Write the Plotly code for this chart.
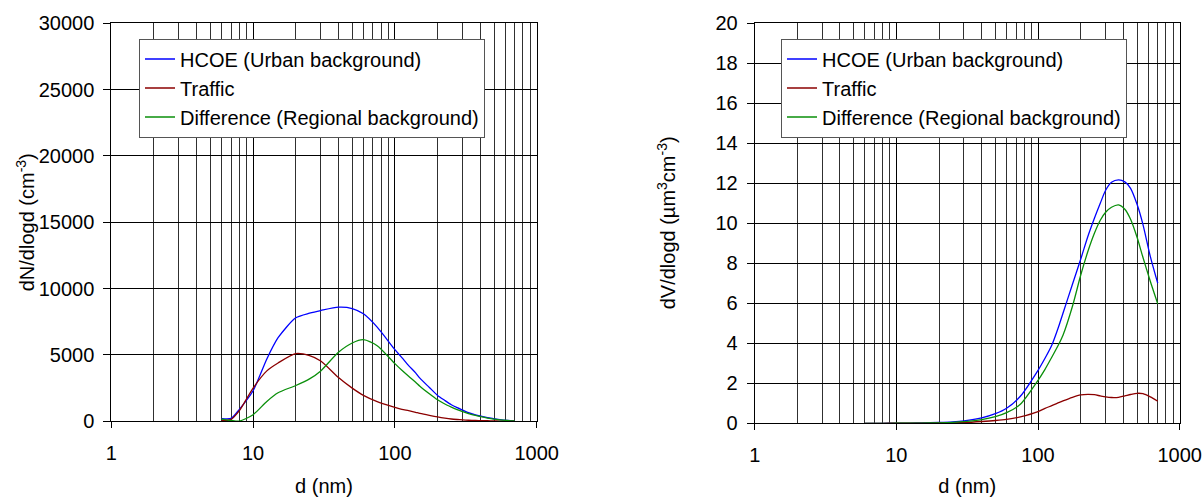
import plotly.graph_objects as go

# Diameters (nm)
d = [6, 7, 8, 10, 12.5, 15, 20, 25, 30, 40, 50, 60, 75, 100, 112, 125, 140, 150, 175, 200, 225,
     250, 275, 300, 330, 370, 410, 450, 500, 550, 620, 700]

# Number size distribution dN/dlogd (cm-3)
n_hcoe = [200, 220, 900, 2300, 4700, 6300, 7800, 8150, 8350, 8600, 8500, 8100, 7100, 5400, 4800, 4200, 3650,
          3250, 2550, 1950, 1570, 1250, 1030, 850, 650, 480, 370, 280, 200, 130, 70, 30]
n_traffic = [50, 150, 800, 2500, 3800, 4400, 5100, 4950, 4550, 3300, 2500, 1950, 1480, 1050, 900, 800, 680,
             600, 450, 330, 240, 175, 135, 105, 80, 60, 50, 40, 30, 20, 10, 5]
n_diff = [170, 60, 10, 500, 1500, 2150, 2700, 3200, 3800, 5200, 5900, 6150, 5700, 4350, 3850, 3400, 2950,
          2650, 2080, 1620, 1300, 1070, 880, 730, 580, 440, 330, 240, 170, 110, 60, 25]

# Volume size distribution dV/dlogd (um3 cm-3)
v_hcoe = [0, 0, 0, 0.005, 0.01, 0.02, 0.04, 0.07, 0.12, 0.27, 0.48, 0.75, 1.35, 2.65, 3.25, 3.9, 4.85,
          5.5, 6.95, 8.2, 9.35, 10.25, 11.0, 11.65, 12.05, 12.17, 12.07, 11.75, 10.95, 9.95, 8.35, 7.0]
v_traffic = [0, 0, 0, 0.003, 0.005, 0.008, 0.015, 0.025, 0.04, 0.09, 0.14, 0.2, 0.32, 0.58, 0.75, 0.88, 1.03,
             1.12, 1.3, 1.42, 1.45, 1.43, 1.37, 1.32, 1.29, 1.3, 1.37, 1.44, 1.5, 1.48, 1.32, 1.1]
v_diff = [0, 0, 0, 0.002, 0.005, 0.012, 0.025, 0.045, 0.08, 0.18, 0.33, 0.53, 0.95, 2.15, 2.7, 3.3, 3.95,
          4.4, 5.85, 7.4, 8.6, 9.5, 10.15, 10.55, 10.8, 10.92, 10.7, 10.2, 9.3, 8.3, 7.1, 5.97]

series_names = ["HCOE (Urban background)", "Traffic", "Difference (Regional background)"]
series_colors = ["#0000FF", "#8B0000", "#0a8f0a"]

x_tickvals = [1, 10, 100, 1000]
x_ticktext = ["1", "10", "100", "1000"]
x_minor_vals = [m * 10 ** e for e in range(3) for m in range(2, 10)]

x_title = "d (nm)"
y_title_n = "dN/dlogd (cm<sup>-3</sup>)"
y_title_v = "dV/dlogd (µm<sup>3</sup>cm<sup>-3</sup>)"

FONT = "Liberation Sans, Arial, sans-serif"
W, H = 1203, 497

fig = go.Figure()
for ys, name, col in zip([n_hcoe, n_traffic, n_diff], series_names, series_colors):
    fig.add_trace(go.Scatter(x=d, y=ys, mode="lines", name=name, xaxis="x", yaxis="y",
                             line=dict(color=col, width=1.3, shape="spline", smoothing=0.7),
                             legend="legend"))
for ys, name, col in zip([v_hcoe, v_traffic, v_diff], series_names, series_colors):
    fig.add_trace(go.Scatter(x=d, y=ys, mode="lines", name=name, xaxis="x2", yaxis="y2",
                             line=dict(color=col, width=1.3, shape="spline", smoothing=0.7),
                             legend="legend2"))

def xax(domain, anchor):
    return dict(domain=domain, anchor=anchor, type="log", range=[0, 3],
                tickmode="array", tickvals=x_tickvals, ticktext=x_ticktext,
                showgrid=True, gridcolor="black", gridwidth=1,
                minor=dict(tickmode="array", tickvals=x_minor_vals, showgrid=True,
                           gridcolor="#303030", gridwidth=1, ticks=""),
                showline=True, linecolor="black", linewidth=1, mirror=True,
                ticks="outside", ticklen=6, tickcolor="black", tickwidth=1,
                ticklabelstandoff=8,
                tickfont=dict(family=FONT, size=20, color="black"),
                title=dict(text=x_title, font=dict(family=FONT, size=20, color="black"), standoff=15),
                zeroline=False, automargin=False)

def yax(domain, anchor, rng, dt):
    return dict(domain=domain, anchor=anchor, range=rng, dtick=dt, tick0=0, tickformat="d",
                showgrid=True, gridcolor="black", gridwidth=1,
                showline=True, linecolor="black", linewidth=1, mirror=True,
                ticks="outside", ticklen=7, tickcolor="black", tickwidth=1,
                ticklabelstandoff=5,
                tickfont=dict(family=FONT, size=20, color="black"),
                zeroline=False, automargin=False)

y_dom1 = [1 - 421.3 / H, 1 - 23.3 / H]
y_dom2 = [1 - 423.3 / H, 1 - 23.3 / H]

fig.update_layout(
    width=W, height=H,
    margin=dict(l=0, r=0, t=0, b=0),
    paper_bgcolor="white", plot_bgcolor="white",
    showlegend=True,
    xaxis=xax([111.3 / W, 536.7 / W], "y"),
    yaxis=yax(y_dom1, "x", [0, 30000], 5000),
    xaxis2=xax([754.7 / W, 1179.7 / W], "y2"),
    yaxis2=yax(y_dom2, "x2", [0, 20], 2),
    legend=dict(x=139 / W, y=1 - 38.5 / H, xanchor="left", yanchor="top",
                bgcolor="white", bordercolor="#555555", borderwidth=1,
                font=dict(family=FONT, size=20, color="black")),
    legend2=dict(x=781 / W, y=1 - 38.5 / H, xanchor="left", yanchor="top",
                 bgcolor="white", bordercolor="#555555", borderwidth=1,
                 font=dict(family=FONT, size=20, color="black")),
    annotations=[
        dict(text=y_title_n, xref="paper", yref="paper", x=25 / W, y=(y_dom1[0] + y_dom1[1]) / 2,
             xanchor="center", yanchor="middle", textangle=-90, showarrow=False,
             font=dict(family=FONT, size=20, color="black")),
        dict(text=y_title_v, xref="paper", yref="paper", x=666 / W, y=(y_dom2[0] + y_dom2[1]) / 2,
             xanchor="center", yanchor="middle", textangle=-90, showarrow=False,
             font=dict(family=FONT, size=20, color="black")),
    ],
)

fig.write_html("out.html")
